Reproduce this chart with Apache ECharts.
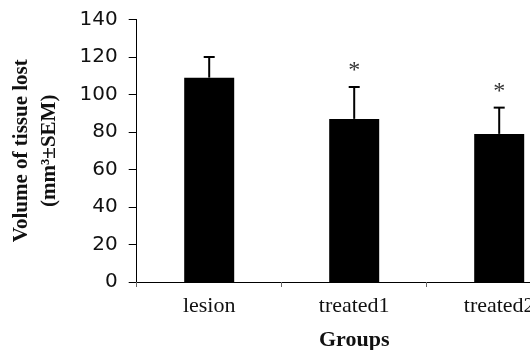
<!DOCTYPE html>
<html><head><meta charset="utf-8">
<script src="https://cdn.jsdelivr.net/npm/echarts@6/dist/echarts.min.js"></script>
<style>html,body{margin:0;padding:0;background:#fff}#c{width:530px;height:350px}</style>
</head><body><div id="c"></div>
<script>
const categories = ['lesion', 'treated1', 'treated2'];
const means = [109, 87, 79];
const sem = [11, 17, 14];
const significance = ['', '*', '*'];
const yTicks = { min: 0, max: 140, interval: 20 };

const chart = echarts.init(document.getElementById('c'));
const errData = categories.map((c, i) => [i, means[i], means[i] + sem[i], significance[i]]);

chart.setOption({
  animation: false,
  backgroundColor: '#fff',
  grid: { left: 136.7, width: 435, top: 19.5, height: 262.5, containLabel: false, outerBoundsMode: 'none' },
  xAxis: {
    type: 'category', data: categories, boundaryGap: true,
    axisLine: { lineStyle: { color: '#000', width: 1 } },
    axisTick: { show: true, length: 5, lineStyle: { color: '#666' } },
    axisLabel: { fontFamily: 'Liberation Serif', fontSize: 22, color: '#111', margin: 13 },
    name: 'Groups', nameLocation: 'middle', nameGap: 47,
    nameTextStyle: { fontFamily: 'Liberation Serif', fontWeight: 'bold', fontSize: 22, color: '#111' }
  },
  yAxis: {
    type: 'value', min: yTicks.min, max: yTicks.max, interval: yTicks.interval,
    splitLine: { show: false },
    axisLine: { show: true, lineStyle: { color: '#000', width: 1 } },
    axisTick: { show: true, length: 8, lineStyle: { color: '#000' } },
    axisLabel: { fontFamily: 'DejaVu Sans', fontSize: 20, color: '#111', margin: 19 },
    name: 'Volume of tissue lost\n(mm³±SEM)', nameLocation: 'middle', nameGap: 73, nameRotate: 90,
    nameTextStyle: { fontFamily: 'Liberation Serif', fontWeight: 'bold', fontSize: 21, lineHeight: 28, color: '#111', align: 'center' }
  },
  series: [
    { type: 'bar', data: means, barWidth: 50, itemStyle: { color: '#000' } },
    {
      type: 'custom', data: errData, z: 10,
      renderItem: function (params, api) {
        const x = api.value(0);
        const base = api.coord([x, api.value(1)]);
        const top = api.coord([x, api.value(2)]);
        const half = 5.5;
        const children = [
          { type: 'line', shape: { x1: base[0], y1: base[1], x2: top[0], y2: top[1] }, style: { stroke: '#000', lineWidth: 2 } },
          { type: 'line', shape: { x1: top[0] - half, y1: top[1], x2: top[0] + half, y2: top[1] }, style: { stroke: '#000', lineWidth: 2 } }
        ];
        const sig = significance[params.dataIndex];
        if (sig) {
          children.push({ type: 'text', style: { text: sig, x: top[0], y: top[1] - 16, align: 'center', verticalAlign: 'middle', font: '24px "Liberation Serif"', fill: '#333' } });
        }
        return { type: 'group', children: children };
      }
    }
  ]
});
</script></body></html>
